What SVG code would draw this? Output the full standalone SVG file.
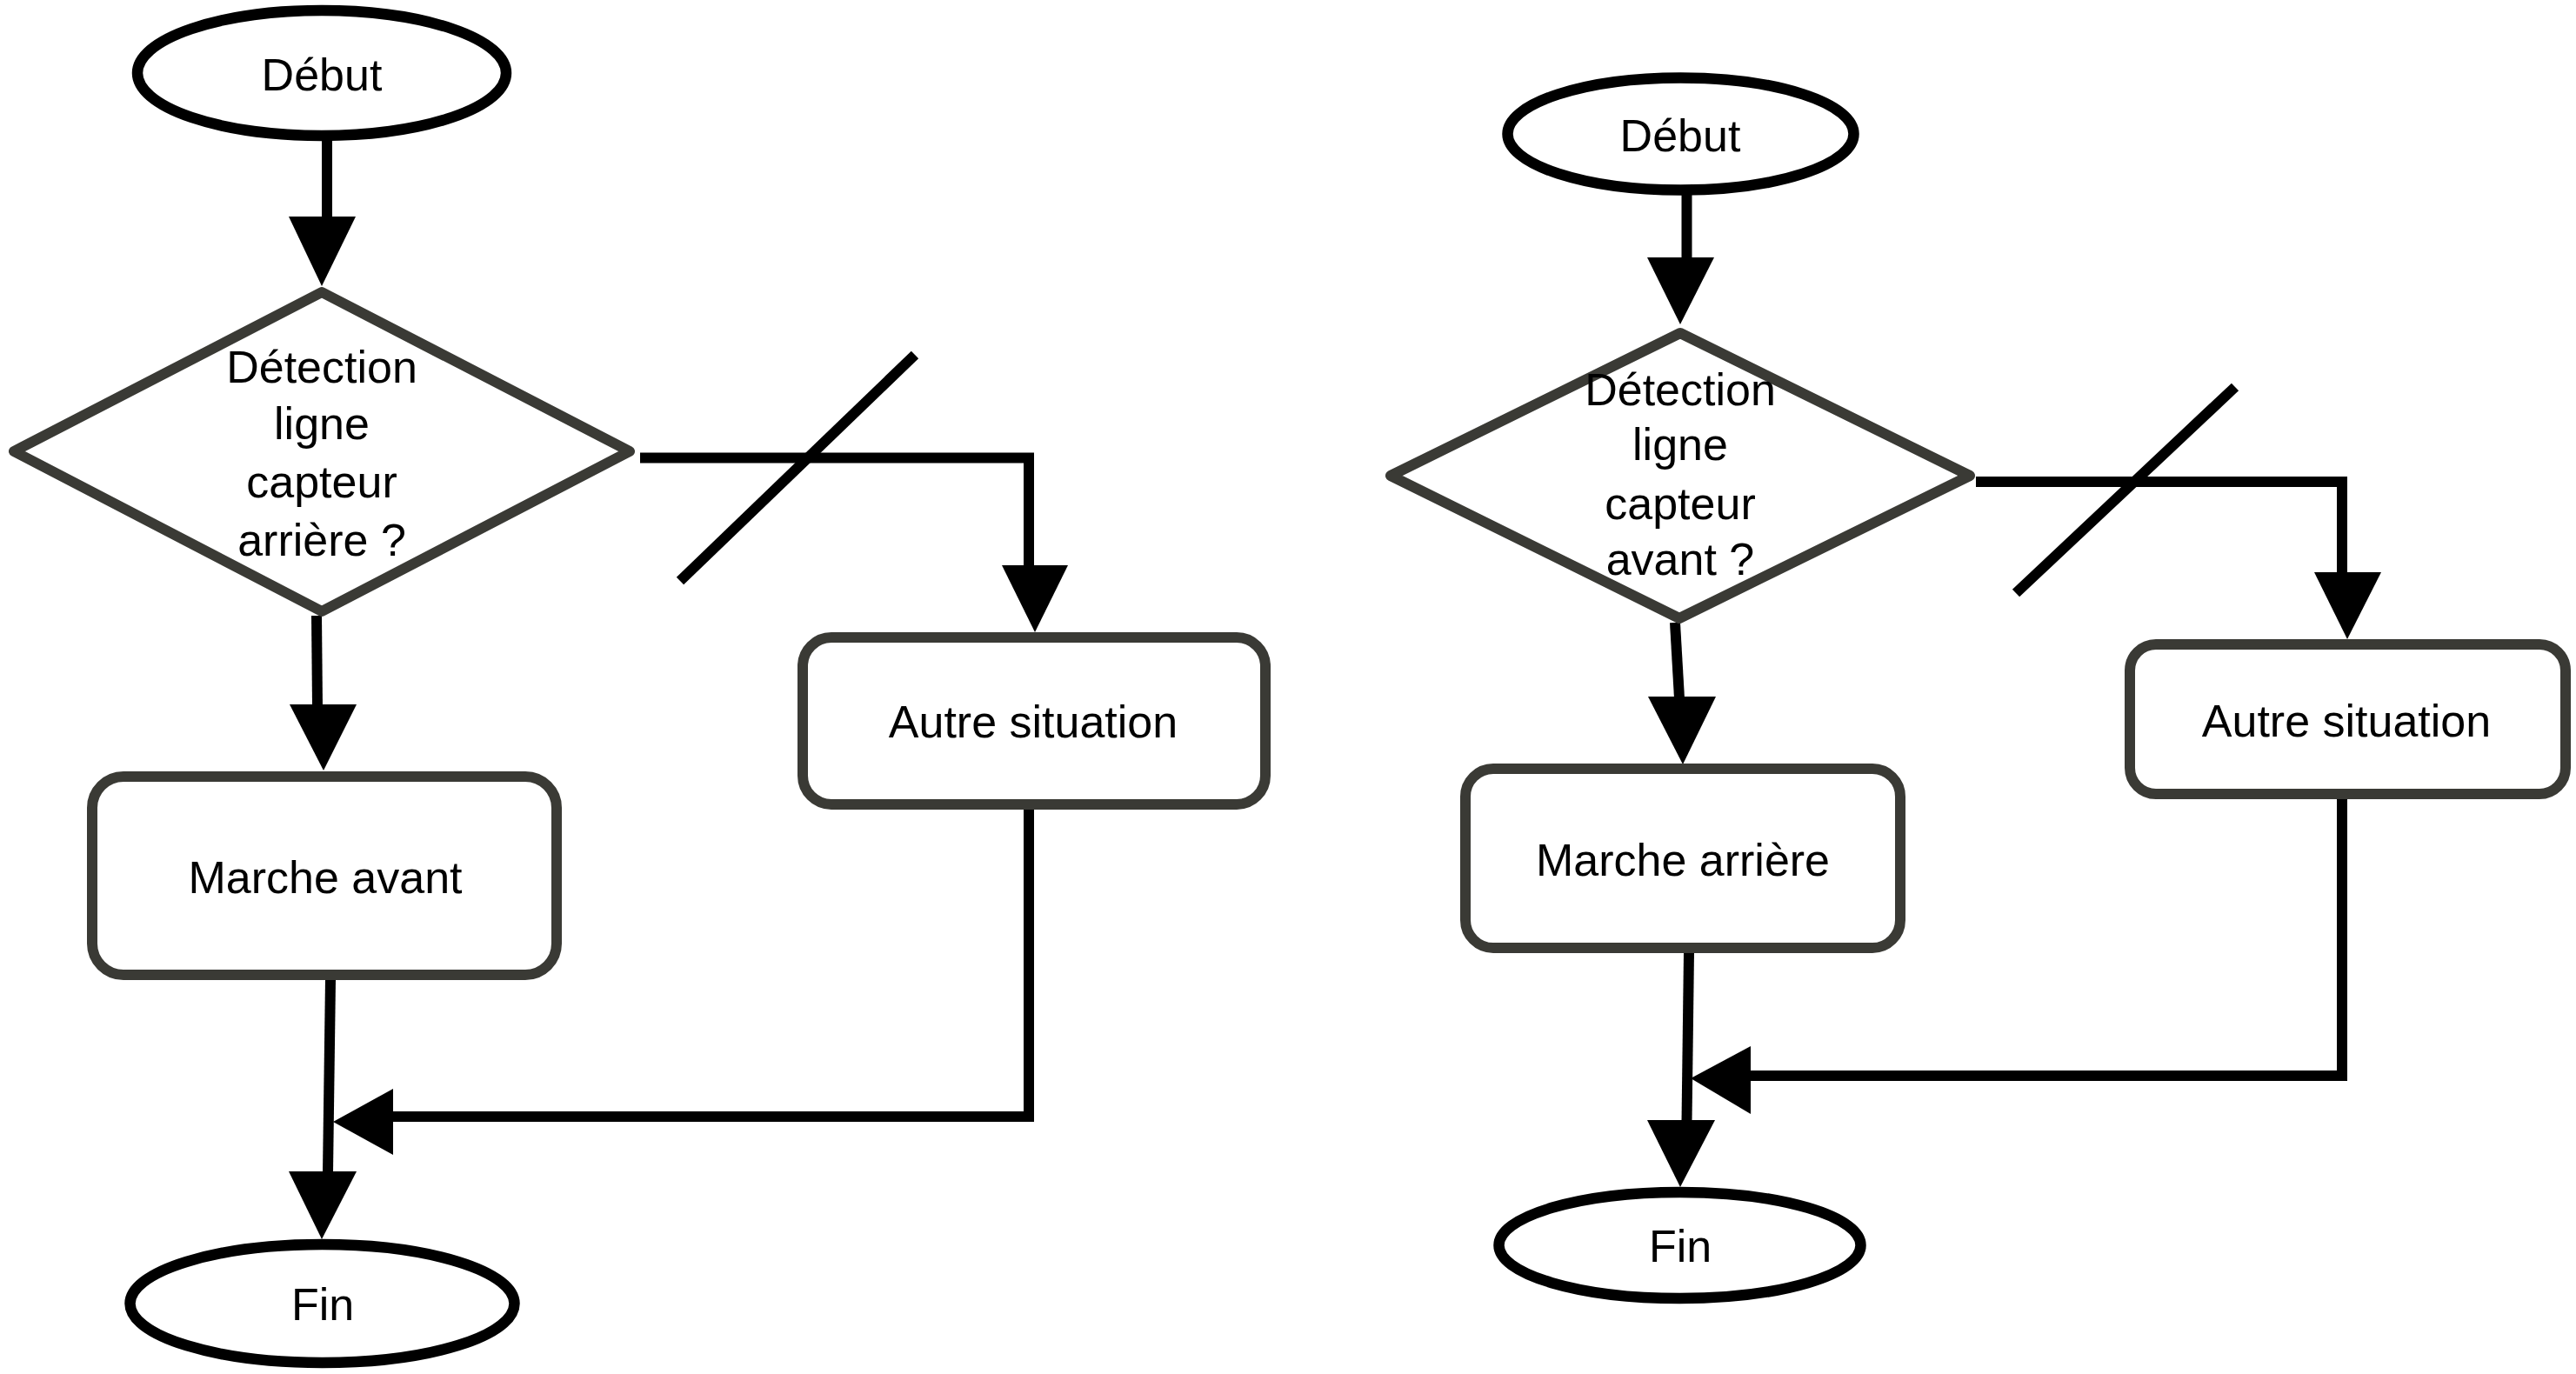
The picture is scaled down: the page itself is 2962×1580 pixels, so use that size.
<svg xmlns="http://www.w3.org/2000/svg" width="2962" height="1580" viewBox="0 0 2962 1580">
<style>
.bg{fill:#ffffff}
.term{fill:#ffffff;stroke:#000000;stroke-width:12.5}
.dec{fill:#ffffff;stroke:#3a3a35;stroke-width:12;stroke-linejoin:round}
.proc{fill:#ffffff;stroke:#3a3a35;stroke-width:12}
.ln{fill:none;stroke:#000000;stroke-width:12;stroke-linejoin:miter;stroke-linecap:butt}
.head{fill:#000000;stroke:none}
.t{font-family:"Liberation Sans",Arial,sans-serif;font-size:52px;fill:#000000;text-anchor:middle}
</style>
<rect class="bg" x="0" y="0" width="2962" height="1580"/>

<g id="connectors">
  <!-- left diagram -->
  <line class="ln" x1="376" y1="160" x2="376" y2="251"/>
  <polygon class="head" points="332,249 409,249 370,329"/>
  <line class="ln" x1="364" y1="708" x2="365" y2="812"/>
  <polygon class="head" points="333,810 410,810 372,886"/>
  <polyline class="ln" points="736,526.5 1183,526.5 1183,652"/>
  <polygon class="head" points="1152,650 1228,650 1190,727"/>
  <line class="ln" x1="1052" y1="408" x2="782" y2="668"/>
  <polyline class="ln" points="1183,930 1183,1284 450,1284"/>
  <polygon class="head" points="452,1252 452,1328 383,1290"/>
  <line class="ln" x1="380" y1="1126" x2="377" y2="1349"/>
  <polygon class="head" points="332,1347 410,1347 370,1425"/>

  <!-- right diagram -->
  <line class="ln" x1="1939.5" y1="222" x2="1939.5" y2="298"/>
  <polygon class="head" points="1894,296 1971,296 1932,373"/>
  <line class="ln" x1="1926" y1="716" x2="1931" y2="803"/>
  <polygon class="head" points="1895,801 1973,801 1935,879"/>
  <polyline class="ln" points="2272,554 2693,554 2693,660"/>
  <polygon class="head" points="2661,658 2738,658 2699,735"/>
  <line class="ln" x1="2570" y1="445" x2="2318" y2="682"/>
  <polyline class="ln" points="2693,918 2693,1237 2011,1237"/>
  <polygon class="head" points="2013,1203 2013,1281 1944,1240"/>
  <line class="ln" x1="1942" y1="1095" x2="1939.5" y2="1290"/>
  <polygon class="head" points="1894,1288 1972,1288 1932,1365"/>
</g>

<g id="debut-left">
  <ellipse class="term" cx="370" cy="84" rx="212" ry="72"/>
  <text class="t" x="370" y="104">Début</text>
</g>
<g id="decision-left">
  <polygon class="dec" points="370,336 724,519 370,703 16,519"/>
  <text class="t" x="370" y="440">Détection</text>
  <text class="t" x="370" y="505">ligne</text>
  <text class="t" x="370" y="572">capteur</text>
  <text class="t" x="370" y="639">arrière ?</text>
</g>
<g id="marche-avant">
  <rect class="proc" x="106" y="893" width="534" height="228" rx="36" ry="36"/>
  <text class="t" x="374" y="1027">Marche avant</text>
</g>
<g id="autre-left">
  <rect class="proc" x="923" y="733" width="532" height="192" rx="33" ry="33"/>
  <text class="t" x="1188" y="848">Autre situation</text>
</g>
<g id="fin-left">
  <ellipse class="term" cx="370.5" cy="1499" rx="221" ry="68"/>
  <text class="t" x="371" y="1518">Fin</text>
</g>

<g id="debut-right">
  <ellipse class="term" cx="1932.5" cy="154" rx="199" ry="64.5"/>
  <text class="t" x="1932" y="174">Début</text>
</g>
<g id="decision-right">
  <polygon class="dec" points="1932,383 2265,547 1931,711 1599,547"/>
  <text class="t" x="1932" y="466">Détection</text>
  <text class="t" x="1932" y="529">ligne</text>
  <text class="t" x="1932" y="597">capteur</text>
  <text class="t" x="1932" y="661">avant ?</text>
</g>
<g id="marche-arriere">
  <rect class="proc" x="1685" y="884" width="500" height="206" rx="32" ry="32"/>
  <text class="t" x="1935" y="1007">Marche arrière</text>
</g>
<g id="autre-right">
  <rect class="proc" x="2449" y="741" width="501" height="172" rx="30" ry="30"/>
  <text class="t" x="2698" y="847">Autre situation</text>
</g>
<g id="fin-right">
  <ellipse class="term" cx="1931.5" cy="1432" rx="208" ry="61"/>
  <text class="t" x="1932" y="1451">Fin</text>
</g>
</svg>
